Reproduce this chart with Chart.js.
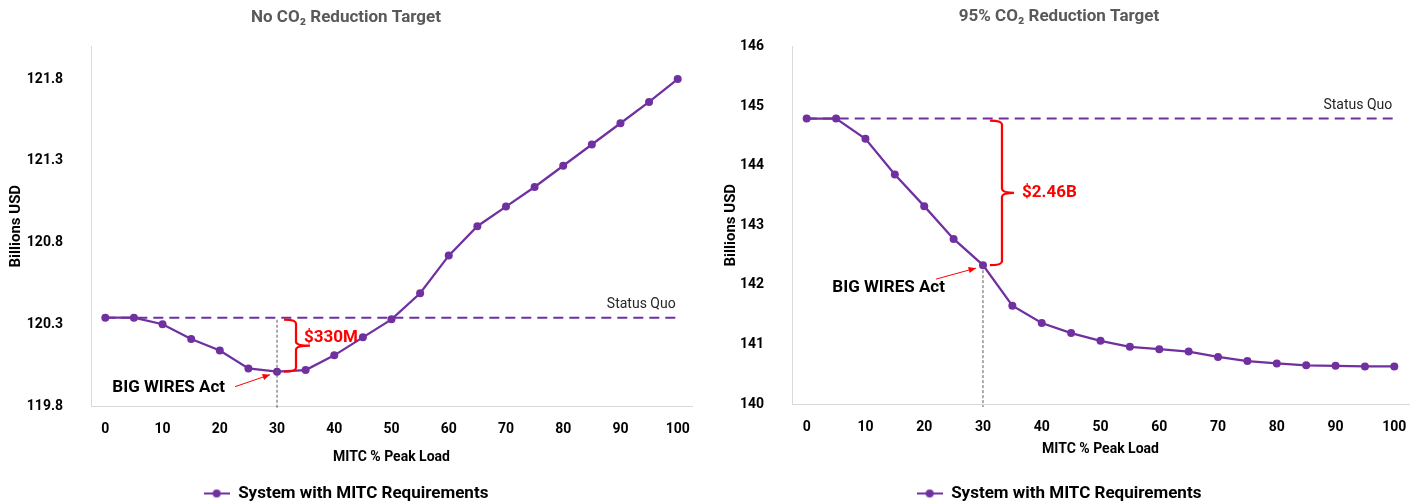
<!DOCTYPE html>
<html>
<head>
<meta charset="utf-8">
<script src="https://cdn.jsdelivr.net/npm/chart.js@4.4.0/dist/chart.umd.min.js"></script>
<style>
    body { margin: 0; background: #fff; }
    .wrap { display: flex; width: 1418px; height: 502px; }
    canvas { display: block; }
</style>
</head>
<body>
<div class="wrap">
    <canvas id="noTargetChart" width="709" height="502"></canvas>
    <canvas id="target95Chart" width="709" height="502"></canvas>
</div>
<script>
const mitcLoad = [0, 5, 10, 15, 20, 25, 30, 35, 40, 45, 50, 55, 60, 65, 70, 75, 80, 85, 90, 95, 100];
const xTickLabels = [0, 10, 20, 30, 40, 50, 60, 70, 80, 90, 100];

// Billions USD
const costNoTarget = [120.34, 120.34, 120.30, 120.21, 120.14, 120.03, 120.01, 120.02, 120.11, 120.22, 120.33,
    120.49, 120.72, 120.90, 121.02, 121.14, 121.27, 121.40, 121.53, 121.66, 121.80];
const costTarget95 = [144.79, 144.79, 144.45, 143.85, 143.32, 142.77, 142.33, 141.65, 141.36, 141.19, 141.06,
    140.96, 140.92, 140.88, 140.79, 140.72, 140.68, 140.65, 140.64, 140.63, 140.63];

const statusQuoNoTarget = 120.34;
const statusQuo95 = 144.79;

const yTicksNoTarget = [119.8, 120.3, 120.8, 121.3, 121.8];
const yTicks95 = [140, 141, 142, 143, 144, 145, 146];

const FONT = 'Roboto, "Open Sans", sans-serif';
const PURPLE = '#7030A0';
const RED = '#FF0000';

// legend marker: short line with a dot
const marker = document.createElement('canvas');
marker.width = 26;
marker.height = 10;
(function () {
    const c = marker.getContext('2d');
    c.strokeStyle = PURPLE;
    c.lineWidth = 2;
    c.beginPath();
    c.moveTo(0, 5);
    c.lineTo(26, 5);
    c.stroke();
    c.fillStyle = PURPLE;
    c.beginPath();
    c.arc(13, 5, 4, 0, Math.PI * 2);
    c.fill();
})();

function drawBrace(ctx, x, top, bottom, w, tip) {
    const mid = (top + bottom) / 2;
    const r = 4;
    ctx.beginPath();
    ctx.moveTo(x, top);
    ctx.quadraticCurveTo(x + w, top, x + w, top + r);
    ctx.lineTo(x + w, mid - r);
    ctx.quadraticCurveTo(x + w, mid, x + w + tip, mid);
    ctx.quadraticCurveTo(x + w, mid, x + w, mid + r);
    ctx.lineTo(x + w, bottom - r);
    ctx.quadraticCurveTo(x + w, bottom, x, bottom);
    ctx.stroke();
}

function drawArrow(ctx, x1, y1, x2, y2) {
    const a = Math.atan2(y2 - y1, x2 - x1);
    ctx.beginPath();
    ctx.moveTo(x1, y1);
    ctx.lineTo(x2, y2);
    ctx.stroke();
    ctx.beginPath();
    ctx.moveTo(x2, y2);
    ctx.lineTo(x2 - 8 * Math.cos(a - 0.4), y2 - 8 * Math.sin(a - 0.4));
    ctx.lineTo(x2 - 8 * Math.cos(a + 0.4), y2 - 8 * Math.sin(a + 0.4));
    ctx.closePath();
    ctx.fill();
}

const notes = {
    id: 'notes',
    afterDatasetsDraw(chart, args, o) {
        const { ctx, scales: { x, y }, chartArea } = chart;
        const i = mitcLoad.indexOf(o.at);
        const px = x.getPixelForValue(i);
        const py = y.getPixelForValue(o.values[i]);
        const sqY = y.getPixelForValue(o.statusQuo);
        const xEnd = x.getPixelForValue(mitcLoad.length - 1);
        ctx.save();

        // status quo label
        ctx.fillStyle = '#262626';
        ctx.font = '14px ' + FONT;
        ctx.textAlign = 'right';
        ctx.textBaseline = 'middle';
        ctx.fillText('Status Quo', xEnd - 2, sqY - 13);

        // dashed drop line
        ctx.strokeStyle = '#595959';
        ctx.lineWidth = 1;
        ctx.setLineDash([3, 2]);
        ctx.beginPath();
        ctx.moveTo(px, o.dropFromStatusQuo ? sqY + 2 : py);
        ctx.lineTo(px, chartArea.bottom + 3);
        ctx.stroke();
        ctx.setLineDash([]);

        // brace + savings label
        ctx.strokeStyle = RED;
        ctx.lineWidth = 2.25;
        drawBrace(ctx, px + 7, sqY + 2, py, 12, o.tip);
        ctx.fillStyle = RED;
        ctx.font = 'bold 17px ' + FONT;
        ctx.textAlign = 'left';
        ctx.fillText(o.saving, px + o.savingDx, (sqY + py) / 2 + o.savingDy);

        // act label + arrow
        ctx.fillStyle = '#000';
        ctx.textAlign = 'right';
        ctx.fillText('BIG WIRES Act', px + o.actDx, py + o.actDy);
        ctx.strokeStyle = RED;
        ctx.fillStyle = RED;
        ctx.lineWidth = 1;
        drawArrow(ctx, px + o.arrow[0], py + o.arrow[1], px - 7, py + 3);
        ctx.restore();
    }
};

function makeChart(id, s) {
    new Chart(document.getElementById(id), {
        type: 'line',
        data: {
            labels: mitcLoad,
            datasets: [{
                label: 'System with MITC Requirements',
                data: s.values,
                borderColor: PURPLE,
                backgroundColor: PURPLE,
                borderWidth: 2.25,
                pointRadius: 4,
                pointBorderWidth: 0,
                pointBackgroundColor: PURPLE
            }, {
                label: 'Status Quo',
                data: [{ x: mitcLoad[0], y: s.statusQuo }, { x: mitcLoad[mitcLoad.length - 1], y: s.statusQuo }],
                borderColor: PURPLE,
                borderWidth: 2,
                borderDash: [10, 6],
                pointRadius: 0
            }]
        },
        options: {
            responsive: false,
            animation: false,
            layout: { padding: { right: s.padRight, bottom: -10 } },
            scales: {
                x: {
                    type: 'category',
                    offset: true,
                    grid: { display: false },
                    border: { color: '#d9d9d9' },
                    afterFit: scale => { scale.height = s.xHeight; },
                    ticks: {
                        autoSkip: false,
                        maxRotation: 0,
                        padding: 7,
                        color: '#000',
                        font: { family: FONT, size: 14, weight: 'bold' },
                        callback: (v, i) => xTickLabels.includes(mitcLoad[i]) ? mitcLoad[i] : ''
                    },
                    title: {
                        display: true,
                        text: 'MITC % Peak Load',
                        color: '#000',
                        font: { family: FONT, size: 14, weight: 'bold' },
                        padding: { top: 0, bottom: s.xTitlePad }
                    }
                },
                y: {
                    min: s.yMin,
                    max: s.yMax,
                    grid: { display: false },
                    border: { color: '#d9d9d9' },
                    afterFit: scale => { scale.width = s.yWidth; },
                    afterBuildTicks: scale => { scale.ticks = s.yTicks.map(v => ({ value: v })); },
                    ticks: {
                        padding: 20,
                        color: '#000',
                        font: { family: FONT, size: 14, weight: 'bold' },
                        callback: v => s.yDigits ? v.toFixed(s.yDigits) : v
                    },
                    title: {
                        display: true,
                        text: 'Billions USD',
                        color: '#000',
                        font: { family: FONT, size: 15, weight: 'bold' },
                        padding: { top: s.yTitlePad, bottom: 0 }
                    }
                }
            },
            plugins: {
                title: {
                    display: true,
                    text: s.title,
                    color: '#595959',
                    font: { family: FONT, size: 17, weight: 'bold' },
                    padding: { top: s.titleTop, bottom: s.titleBottom }
                },
                legend: {
                    position: 'bottom',
                    labels: {
                        usePointStyle: true,
                        pointStyle: marker,
                        pointStyleWidth: 26,
                        padding: 1,
                        color: '#000',
                        font: { family: FONT, size: 17, weight: 'bold' },
                        filter: item => item.datasetIndex === 0
                    }
                },
                tooltip: { enabled: false },
                notes: s.notes
            }
        },
        plugins: [notes]
    });
}

makeChart('noTargetChart', {
    title: 'No CO₂ Reduction Target',
    values: costNoTarget,
    statusQuo: statusQuoNoTarget,
    yMin: 119.8, yMax: 122.0, yTicks: yTicksNoTarget, yDigits: 1,
    padRight: 17, yWidth: 91, xHeight: 78, xTitlePad: 18, yTitlePad: 7,
    titleTop: 8, titleBottom: 18,
    notes: {
        at: 30, values: costNoTarget, statusQuo: statusQuoNoTarget, dropFromStatusQuo: true,
        saving: '$330M', savingDx: 27, savingDy: -7, tip: 14,
        actDx: -52, actDy: 16, arrow: [-42, 15]
    }
});

makeChart('target95Chart', {
    title: '95% CO₂ Reduction Target',
    values: costTarget95,
    statusQuo: statusQuo95,
    yMin: 140, yMax: 146, yTicks: yTicks95, yDigits: 0,
    padRight: 9, yWidth: 83, xHeight: 80, xTitlePad: 26, yTitlePad: 13,
    titleTop: 7, titleBottom: 19,
    notes: {
        at: 30, values: costTarget95, statusQuo: statusQuo95, dropFromStatusQuo: false,
        saving: '$2.46B', savingDx: 39, savingDy: 1, tip: 12,
        actDx: -38, actDy: 23, arrow: [-47, 14]
    }
});
</script>
</body>
</html>
